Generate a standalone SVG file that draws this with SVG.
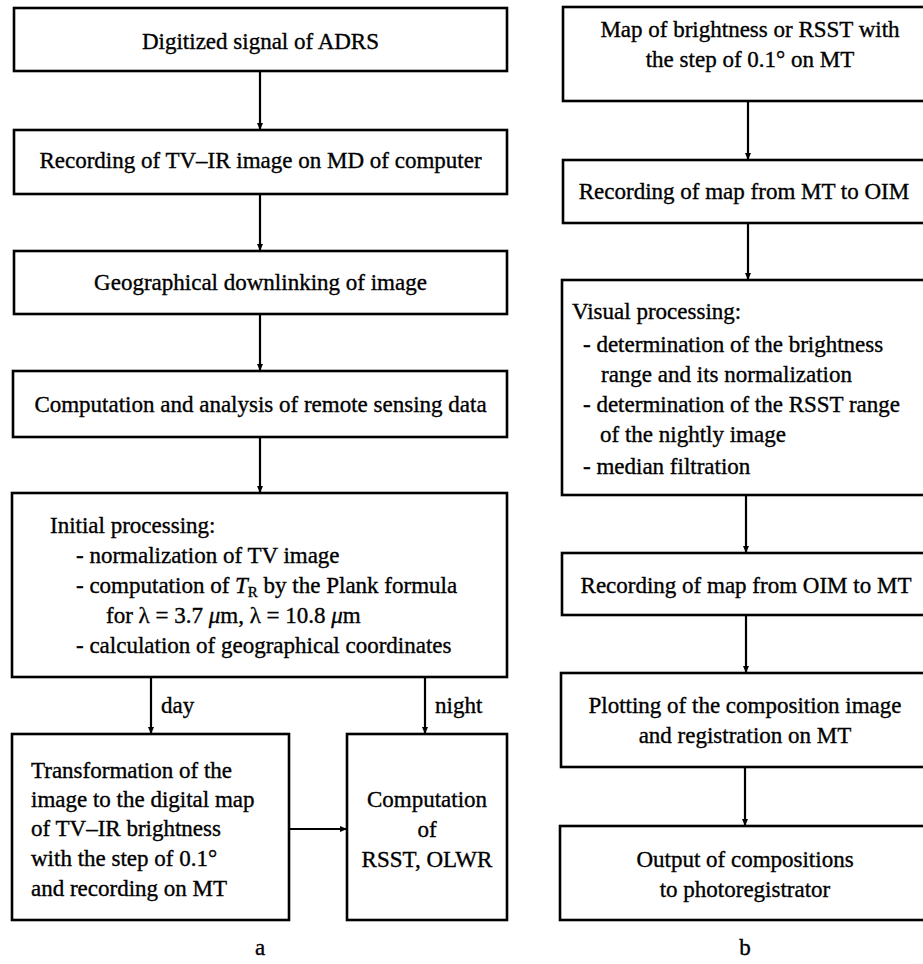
<svg xmlns="http://www.w3.org/2000/svg" width="923" height="964" viewBox="0 0 923 964">
<defs>
<marker id="ah" markerWidth="8" markerHeight="8" refX="7" refY="4" orient="auto" markerUnits="userSpaceOnUse">
<path d="M0,1 L7,4 L0,7 Z" fill="#000"/>
</marker>
<style>
.box{fill:#fff;stroke:#000;stroke-width:2.6}
.t{font-family:"Liberation Serif","Times New Roman",serif;font-size:23px;fill:#000;stroke:#000;stroke-width:0.35}
.c{text-anchor:middle}
.ln{stroke:#000;stroke-width:2.2;fill:none;marker-end:url(#ah)}
</style>
</defs>
<rect width="923" height="964" fill="#fff"/>
<g id="connectors">
<line class="ln" x1="260" y1="71" x2="260" y2="130"/>
<line class="ln" x1="260" y1="194" x2="260" y2="251"/>
<line class="ln" x1="260" y1="314" x2="260" y2="371"/>
<line class="ln" x1="260" y1="437" x2="260" y2="493"/>
<line class="ln" x1="151" y1="677" x2="151" y2="734"/>
<line class="ln" x1="425" y1="677" x2="425" y2="734"/>
<line class="ln" x1="289" y1="829" x2="347" y2="829"/>
<line class="ln" x1="748" y1="101" x2="748" y2="160"/>
<line class="ln" x1="748" y1="223" x2="748" y2="280"/>
<line class="ln" x1="746" y1="495" x2="746" y2="553"/>
<line class="ln" x1="746" y1="615" x2="746" y2="673"/>
<line class="ln" x1="745" y1="767" x2="745" y2="826"/>
<text class="t" x="161" y="713">day</text>
<text class="t" x="435" y="713">night</text>
</g>
<g id="a1"><rect class="box" x="14" y="8" width="493" height="63"/><text class="t c" x="260.5" y="49">Digitized signal of ADRS</text></g>
<g id="a2"><rect class="box" x="14" y="130" width="493" height="64"/><text class="t c" x="260.5" y="168">Recording of TV–IR image on MD of computer</text></g>
<g id="a3"><rect class="box" x="14" y="251" width="493" height="63"/><text class="t c" x="260.5" y="290">Geographical downlinking of image</text></g>
<g id="a4"><rect class="box" x="13" y="371" width="494" height="66"/><text class="t c" x="260.5" y="412">Computation and analysis of remote sensing data</text></g>
<g id="a5"><rect class="box" x="12" y="493" width="495" height="184"/>
<text class="t" x="50" y="533">Initial processing:</text>
<text class="t" x="76" y="563">- normalization of TV image</text>
<text class="t" x="76" y="593">- computation of <tspan font-style="italic">T</tspan><tspan font-size="15" dy="4">R</tspan><tspan dy="-4"> by the Plank formula</tspan></text>
<text class="t" x="106" y="623">for λ = 3.7 <tspan font-style="italic">μ</tspan>m, λ = 10.8 <tspan font-style="italic">μ</tspan>m</text>
<text class="t" x="76" y="653">- calculation of geographical coordinates</text>
</g>
<g id="a6"><rect class="box" x="12" y="734" width="277" height="186"/>
<text class="t" x="31" y="778">Transformation of the</text>
<text class="t" x="31" y="807">image to the digital map</text>
<text class="t" x="31" y="836">of TV–IR brightness</text>
<text class="t" x="31" y="866">with the step of 0.1°</text>
<text class="t" x="31" y="896">and recording on MT</text>
</g>
<g id="a7"><rect class="box" x="347" y="734" width="160" height="186"/>
<text class="t c" x="427" y="807">Computation</text>
<text class="t c" x="427" y="837">of</text>
<text class="t c" x="427" y="867">RSST, OLWR</text>
</g>
<g id="b1"><rect class="box" x="563" y="7" width="380" height="94"/>
<text class="t c" x="750" y="37">Map of brightness or RSST with</text>
<text class="t c" x="750" y="67">the step of 0.1° on MT</text>
</g>
<g id="b2"><rect class="box" x="563" y="160" width="380" height="63"/><text class="t c" x="744" y="199">Recording of map from MT to OIM</text></g>
<g id="b3"><rect class="box" x="562" y="280" width="381" height="215"/>
<text class="t" x="572" y="319">Visual processing:</text>
<text class="t" x="583" y="352">- determination of the brightness</text>
<text class="t" x="601" y="382">range and its normalization</text>
<text class="t" x="583" y="412">- determination of the RSST range</text>
<text class="t" x="600" y="442">of the nightly image</text>
<text class="t" x="583" y="474">- median filtration</text>
</g>
<g id="b4"><rect class="box" x="562" y="553" width="381" height="62"/><text class="t c" x="746" y="593">Recording of map from OIM to MT</text></g>
<g id="b5"><rect class="box" x="561" y="673" width="382" height="94"/>
<text class="t c" x="745" y="713">Plotting of the composition image</text>
<text class="t c" x="745" y="743">and registration on MT</text>
</g>
<g id="b6"><rect class="box" x="560" y="826" width="383" height="94"/>
<text class="t c" x="745" y="867">Output of compositions</text>
<text class="t c" x="745" y="897">to photoregistrator</text>
</g>
<text class="t c" x="260" y="955">a</text>
<text class="t c" x="745" y="955">b</text>
</svg>
